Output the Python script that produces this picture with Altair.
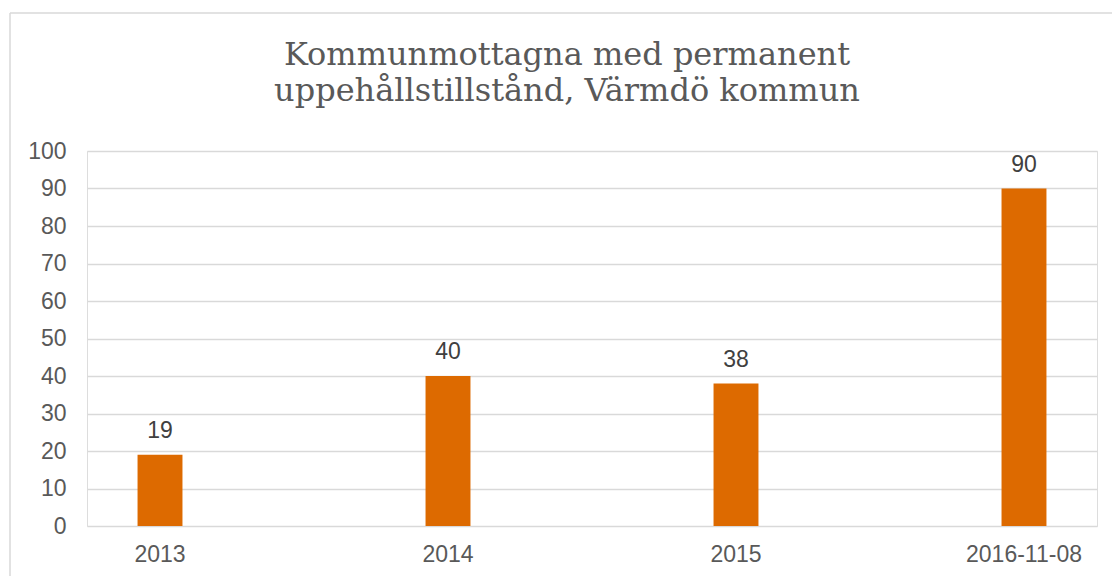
import altair as alt
import pandas as pd

categories = ["2013", "2014", "2015", "2016-11-08"]
values = [19, 40, 38, 90]
title_lines = ["Kommunmottagna med permanent", "uppehållstillstånd, Värmdö kommun"]

df = pd.DataFrame({"period": categories, "antal": values})
one = pd.DataFrame({"k": [0]})

W, H = 1010, 375
PAD_L, PAD_T = 87, 151

x_enc = alt.X(
    "period:N",
    sort=categories,
    scale=alt.Scale(paddingInner=0.844, paddingOuter=0.1755),
    axis=alt.Axis(
        title=None, labelAngle=0, domain=False, ticks=False, grid=False,
        labelFont="Liberation Sans", labelFontSize=23, labelColor="#595959",
        labelPadding=17,
    ),
)
y_enc = alt.Y(
    "antal:Q",
    scale=alt.Scale(domain=[0, 100], nice=False),
    axis=alt.Axis(
        title=None, values=list(range(0, 101, 10)), domain=False, ticks=False,
        grid=True, gridColor="#d9d9d9", gridWidth=1.5, labelOverlap=False,
        labelFont="Liberation Sans", labelFontSize=23, labelColor="#595959",
        labelPadding=21,
    ),
)

base = alt.Chart(df)
bars = base.mark_bar(color="#DD6A00").encode(x=x_enc, y=y_enc)
labels = base.mark_text(
    dy=-12, baseline="bottom", font="Liberation Sans", fontSize=23, color="#404040"
).encode(x=x_enc, y=y_enc, text="antal:Q")

deco = alt.Chart(one)
title1 = deco.mark_text(
    font="DejaVu Serif", fontSize=32, color="#595959", baseline="alphabetic", align="center"
).encode(x=alt.value(567 - PAD_L), y=alt.value(65 - PAD_T), text=alt.value(title_lines[0]))
title2 = deco.mark_text(
    font="DejaVu Serif", fontSize=32, color="#595959", baseline="alphabetic", align="center"
).encode(x=alt.value(567 - PAD_L), y=alt.value(101 - PAD_T), text=alt.value(title_lines[1]))

border_left = deco.mark_rule(color="#d9d9d9", strokeWidth=1.5, clip=False).encode(
    x=alt.value(10 - PAD_L), y=alt.value(13 - PAD_T), y2=alt.value(576 - PAD_T + 5)
)
border_top = deco.mark_rule(color="#d9d9d9", strokeWidth=1.5, clip=False).encode(
    x=alt.value(10 - PAD_L), x2=alt.value(1112 - PAD_L + 5), y=alt.value(13 - PAD_T)
)

chart = alt.layer(bars, labels, title1, title2, border_left, border_top).properties(
    width=W,
    height=H,
    padding={"left": PAD_L, "top": PAD_T, "right": 1112 - PAD_L - W, "bottom": 576 - PAD_T - H},
    autosize=alt.AutoSizeParams(type="none"),
).configure_view(stroke=None).configure(background="white")

chart.save("out.html", embed_options={"renderer": "svg", "actions": False})
